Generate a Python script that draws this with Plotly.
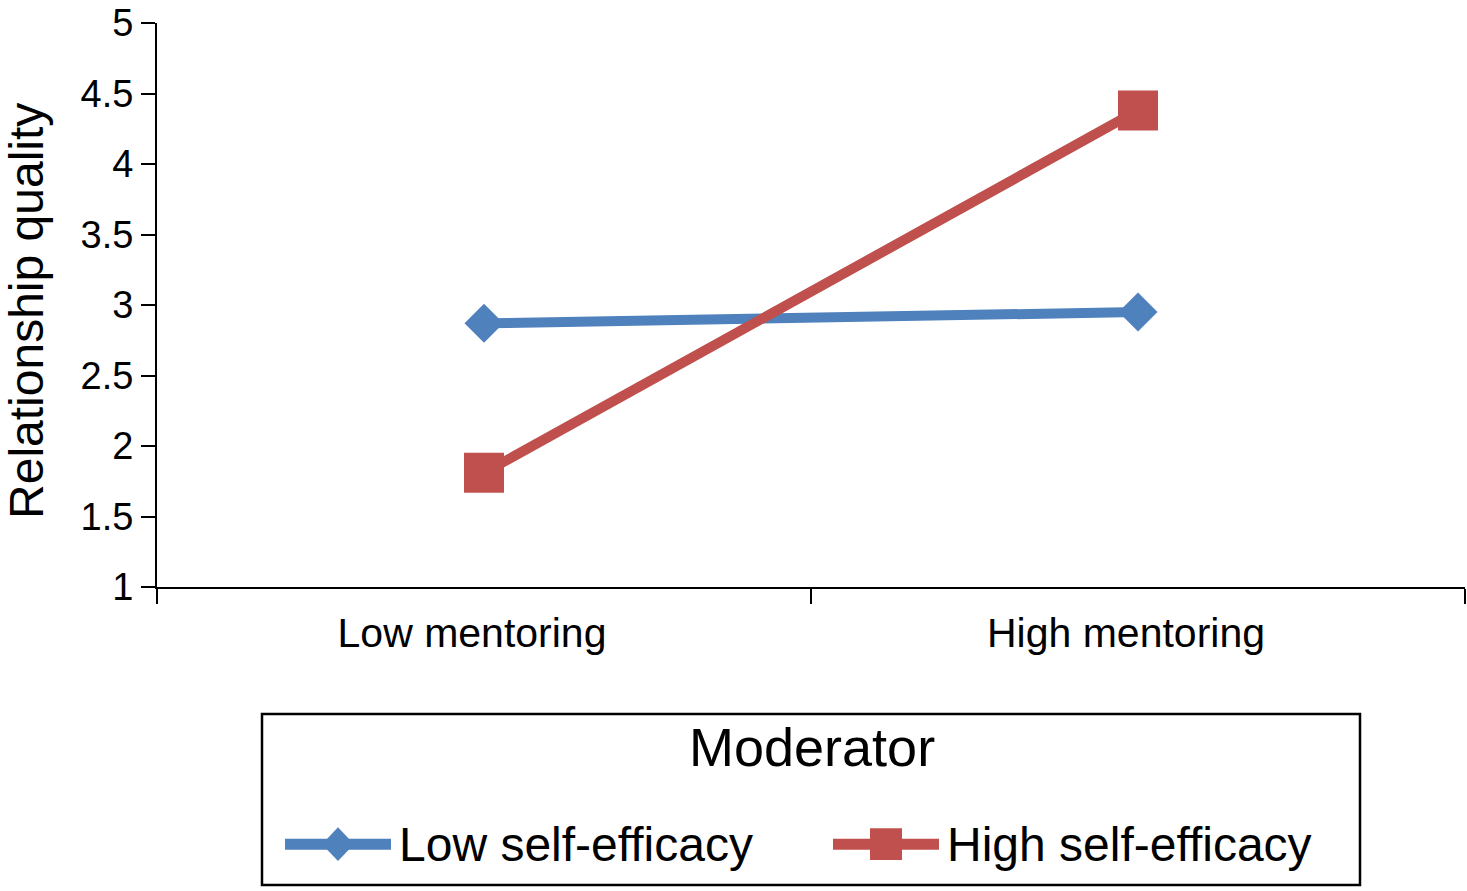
import plotly.graph_objs as go

# data
categories = ["Low mentoring", "High mentoring"]
low_efficacy = [2.87, 2.95]
high_efficacy = [1.81, 4.38]
series_names = ["Low self-efficacy", "High self-efficacy"]
legend_title = "Moderator"
y_title = "Relationship quality"

blue = "#4F81BD"
red = "#C0504D"
font = "Liberation Sans, Arial, Helvetica, sans-serif"

W, H = 1467, 891
L, R, T, B = 157, 2, 19, 304


# pixel -> paper helpers (plot area is fixed by the margins)
def px(x):
    return (x - L) / (W - L - R)


def py(y):
    return (H - B - y) / (H - T - B)


trace1 = go.Scatter(x=categories, y=low_efficacy, name=series_names[0],
                    mode="lines+markers",
                    line={"color": blue, "width": 10},
                    marker={"symbol": "diamond", "size": 30, "color": blue})
trace2 = go.Scatter(x=categories, y=high_efficacy, name=series_names[1],
                    mode="lines+markers",
                    line={"color": red, "width": 10},
                    marker={"symbol": "square", "size": 40, "color": red})

axis_font = {"family": font, "color": "black"}

layout = go.Layout(
    width=W, height=H,
    margin={"l": L, "r": R, "t": T, "b": B, "pad": 0},
    paper_bgcolor="white", plot_bgcolor="white",
    showlegend=False,
    xaxis={"type": "category", "range": [-0.5, 1.5], "tickson": "boundaries",
           "ticks": "outside", "ticklen": 15, "tickwidth": 2, "tickcolor": "black",
           "showline": True, "linecolor": "black", "linewidth": 2,
           "showgrid": False, "zeroline": False,
           "tickfont": dict(axis_font, size=41), "ticklabelshift": -12,
           "ticklabelstandoff": 9},
    yaxis={"range": [1, 5], "dtick": 0.5, "tick0": 1,
           "ticks": "outside", "ticklen": 14, "tickwidth": 2, "tickcolor": "black",
           "showline": True, "linecolor": "black", "linewidth": 2,
           "showgrid": False, "zeroline": False,
           "tickfont": dict(axis_font, size=38), "ticklabelstandoff": 0,
           "ticklabeloverflow": "allow"},
)

fig = go.Figure(data=[trace1, trace2], layout=layout)

# y axis title
fig.add_annotation(text=y_title, xref="paper", yref="paper",
                   x=px(27), y=py(309), textangle=-90, showarrow=False,
                   xanchor="center", yanchor="middle",
                   font={"family": font, "size": 48, "color": "black"})

# legend, drawn by hand so the keys keep Excel's sizes
fig.add_shape(type="rect", xref="paper", yref="paper",
              x0=px(262), x1=px(1360), y0=py(887), y1=py(715),
              line={"color": "black", "width": 2.5}, fillcolor="white", layer="below")
fig.add_annotation(text=legend_title, xref="paper", yref="paper",
                   x=px(812), y=py(748), showarrow=False,
                   xanchor="center", yanchor="middle",
                   font={"family": font, "size": 54, "color": "black"})

keys = [(285, blue, "diamond", series_names[0]),
        (833, red, "square", series_names[1])]
ky = 846
for x0, col, sym, name in keys:
    cx = x0 + 53
    fig.add_shape(type="line", xref="paper", yref="paper",
                  x0=px(x0), x1=px(x0 + 106), y0=py(ky), y1=py(ky),
                  line={"color": col, "width": 11})
    if sym == "diamond":
        path = "M %f %f L %f %f L %f %f L %f %f Z" % (
            px(cx - 16), py(ky), px(cx), py(ky - 17),
            px(cx + 16), py(ky), px(cx), py(ky + 17))
        fig.add_shape(type="path", xref="paper", yref="paper", path=path,
                      fillcolor=col, line={"width": 0})
    else:
        fig.add_shape(type="rect", xref="paper", yref="paper",
                      x0=px(cx - 16), x1=px(cx + 16), y0=py(ky + 16), y1=py(ky - 16),
                      fillcolor=col, line={"width": 0})
    fig.add_annotation(text=name, xref="paper", yref="paper",
                       x=px(x0 + 112), y=py(ky), showarrow=False,
                       xanchor="left", yanchor="middle",
                       font={"family": font, "size": 48, "color": "black"})

# drop the page margin so the figure sits at the window corner
fig.write_html("out.html", config={"displayModeBar": False},
               post_script="document.body.style.margin = '0';")
